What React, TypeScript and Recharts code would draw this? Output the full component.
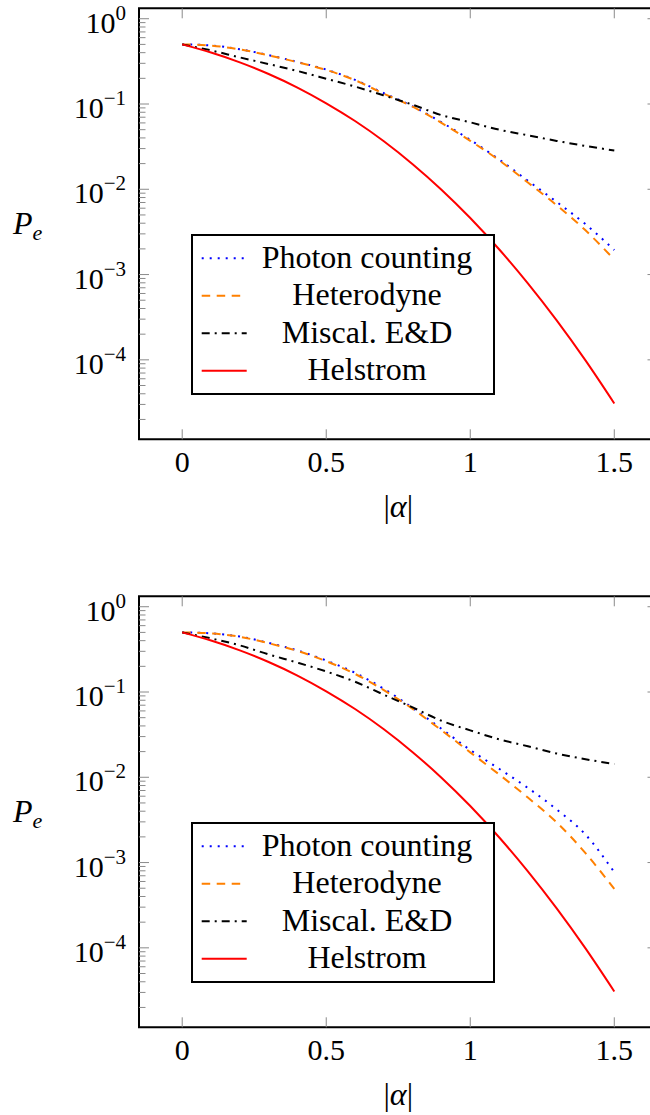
import React from 'react';
import { LineChart, Line, XAxis, YAxis, ReferenceArea, Legend, Label } from 'recharts';

// |alpha| samples
const alphaValues = [0, 0.1, 0.2, 0.3, 0.4, 0.5, 0.6, 0.7, 0.8, 0.9, 1.0, 1.1, 1.2, 1.3, 1.4, 1.5];

// upper panel
const topPhoton = [0.5, 0.486, 0.439, 0.374, 0.311, 0.253, 0.192, 0.134, 0.094, 0.061, 0.038, 0.0224, 0.0126, 0.0071, 0.0039, 0.00194];
const topHeterodyne = [0.5, 0.484, 0.437, 0.372, 0.309, 0.251, 0.19, 0.132, 0.093, 0.06, 0.037, 0.0219, 0.012, 0.0065, 0.0033, 0.0015];
const topMiscal = [0.5, 0.425, 0.352, 0.294, 0.244, 0.198, 0.16, 0.126, 0.098, 0.074, 0.061, 0.05, 0.043, 0.0369, 0.0322, 0.0285];

// lower panel
const bottomPhoton = [0.5, 0.487, 0.447, 0.377, 0.307, 0.234, 0.168, 0.109, 0.065, 0.037, 0.0209, 0.0126, 0.0075, 0.0042, 0.00213, 0.00077];
const bottomHeterodyne = [0.5, 0.486, 0.444, 0.373, 0.303, 0.23, 0.163, 0.105, 0.0634, 0.0356, 0.0196, 0.0108, 0.00578, 0.00296, 0.00129, 0.00049];
const bottomMiscal = [0.5, 0.425, 0.352, 0.276, 0.221, 0.174, 0.132, 0.093, 0.066, 0.046, 0.0355, 0.0279, 0.0231, 0.019, 0.0163, 0.0143];

// same in both panels
const helstrom = [0.5, 0.401, 0.308, 0.225, 0.156, 0.102, 0.0632, 0.0366, 0.0197, 0.00989, 0.0046, 0.00198, 0.000788, 0.00029, 0.0000984, 0.0000308];

const xTicks = [0, 0.5, 1, 1.5];
const yMajorTicks = [1, 0.1, 0.01, 0.001, 0.0001];

const seriesNames = ['Photon counting', 'Heterodyne', 'Miscal. E&D', 'Helstrom'];
const seriesKeys = ['photon', 'heterodyne', 'miscal', 'helstrom'];
const seriesColors = ['#0000ff', '#ff8000', '#000000', '#ff0000'];
const seriesDashes = ['2 6', '8.5 6.5', '8 5 2 5', undefined];

const X_DOMAIN: [number, number] = [-0.15, 1.65];
const Y_DOMAIN: [number, number] = [1.17e-5, 1.325];

// plot box inside each chart
const PLOT_L = 139;
const PLOT_R = 657.5;
const PLOT_T = 8.3;
const PLOT_B = 439.3;
const CHART_W = 660;
const CHART_H = 525;

const FONT = '"Liberation Serif"';

// minor ticks 2..9 x 10^k inside the domain
const yMinorTicks: number[] = [];
for (let e = -5; e <= 0; e++) {
    for (let m = 2; m <= 9; m++) {
        const v = m * Math.pow(10, e);
        if (v > Y_DOMAIN[0] && v < Y_DOMAIN[1]) yMinorTicks.push(v);
    }
}

const XTick = (props: any) => {
    const { x, payload } = props;
    return (
        <g>
            <line x1={x} x2={x} y1={PLOT_B} y2={PLOT_B - 10} stroke="#8a8a8a" strokeWidth={1} />
            <line x1={x} x2={x} y1={PLOT_T} y2={PLOT_T + 10} stroke="#8a8a8a" strokeWidth={1} />
            <text x={x} y={PLOT_B + 33} textAnchor="middle" style={{ fontFamily: FONT }} fontSize={30} fill="#000">
                {String(payload.value)}
            </text>
        </g>
    );
};

const YTick = (props: any) => {
    const { y, payload } = props;
    const lg = Math.log10(payload.value);
    const exp = Math.round(lg);
    const major = Math.abs(lg - exp) < 1e-6;
    const len = major ? 10 : 6.5;
    return (
        <g>
            <line x1={PLOT_L} x2={PLOT_L + len} y1={y} y2={y} stroke="#8a8a8a" strokeWidth={1} />
            <line x1={PLOT_R - len} x2={PLOT_R} y1={y} y2={y} stroke="#8a8a8a" strokeWidth={1} />
            {major && (
                <text x={126} y={y + 14} textAnchor="end" style={{ fontFamily: FONT }} fontSize={30} fill="#000">
                    10
                    <tspan dy={-13} fontSize={21}>{exp === 0 ? '0' : '\u2212' + String(-exp)}</tspan>
                </text>
            )}
        </g>
    );
};

const XLabel = () => (
    <text x={(PLOT_L + PLOT_R) / 2} y={PLOT_B + 78} textAnchor="middle" style={{ fontFamily: FONT }} fontSize={32} fill="#000">
        |<tspan fontStyle="italic">α</tspan>|
    </text>
);

const YLabel = () => (
    <text x={13} y={234} style={{ fontFamily: FONT }} fontSize={32} fill="#000" fontStyle="italic">
        P<tspan fontSize={22} dy={6}>e</tspan>
    </text>
);

const LegendBox = () => (
    <svg width={304} height={161} style={{ display: 'block' }}>
        <rect x={1} y={1} width={302} height={159} fill="#fff" stroke="#000" strokeWidth={2} />
        {seriesNames.map((name, i) => {
            const cy = 24.3 + i * 37.5;
            return (
                <g key={name}>
                    <line x1={10.7} x2={55.7} y1={cy} y2={cy} stroke={seriesColors[i]} strokeWidth={2}
                          strokeDasharray={seriesDashes[i]} />
                    <text x={176} y={cy + 9.5} textAnchor="middle" style={{ fontFamily: FONT }} fontSize={32} fill="#000">
                        {name}
                    </text>
                </g>
            );
        })}
    </svg>
);

interface PanelProps {
    photon: number[];
    heterodyne: number[];
    miscal: number[];
    top: number;
}

const Panel: React.FC<PanelProps> = ({ photon, heterodyne, miscal, top }) => {
    const data = alphaValues.map((a, i) => ({
        a,
        photon: photon[i],
        heterodyne: heterodyne[i],
        miscal: miscal[i],
        helstrom: helstrom[i],
    }));

    return (
        <div style={{ position: 'absolute', left: 0, top }}>
            <LineChart
                width={CHART_W}
                height={CHART_H}
                data={data}
                margin={{ top: PLOT_T, right: CHART_W - PLOT_R, left: 0, bottom: 0 }}
            >
                <XAxis
                    dataKey="a"
                    type="number"
                    domain={X_DOMAIN}
                    ticks={xTicks}
                    interval={0}
                    allowDataOverflow
                    axisLine={false}
                    tickLine={false}
                    tick={<XTick />}
                    height={CHART_H - PLOT_B}
                >
                    <Label content={<XLabel />} />
                </XAxis>
                <YAxis
                    type="number"
                    scale="log"
                    domain={Y_DOMAIN}
                    ticks={[...yMajorTicks, ...yMinorTicks]}
                    interval={0}
                    allowDataOverflow
                    axisLine={false}
                    tickLine={false}
                    tick={<YTick />}
                    width={PLOT_L}
                >
                    <Label content={<YLabel />} />
                </YAxis>
                {seriesKeys.map((k, i) => (
                    <Line
                        key={k}
                        dataKey={k}
                        name={seriesNames[i]}
                        type="monotone"
                        stroke={seriesColors[i]}
                        strokeWidth={2}
                        strokeDasharray={seriesDashes[i]}
                        dot={false}
                        isAnimationActive={false}
                    />
                ))}
                <ReferenceArea
                    x1={X_DOMAIN[0]}
                    x2={X_DOMAIN[1]}
                    y1={Y_DOMAIN[0]}
                    y2={Y_DOMAIN[1]}
                    fill="none"
                    stroke="#000"
                    strokeWidth={2}
                    ifOverflow="visible"
                />
                <Legend
                    layout="vertical"
                    align="center"
                    verticalAlign="middle"
                    content={<LegendBox />}
                    wrapperStyle={{ left: 191, top: 234, width: 304, height: 161 }}
                />
            </LineChart>
        </div>
    );
};

export default function App() {
    return (
        <div style={{ position: 'fixed', left: 0, top: 0, width: 650, height: 1115, overflow: 'hidden', background: '#fff' }}>
            <Panel photon={topPhoton} heterodyne={topHeterodyne} miscal={topMiscal} top={0} />
            <Panel photon={bottomPhoton} heterodyne={bottomHeterodyne} miscal={bottomMiscal} top={588} />
        </div>
    );
}
